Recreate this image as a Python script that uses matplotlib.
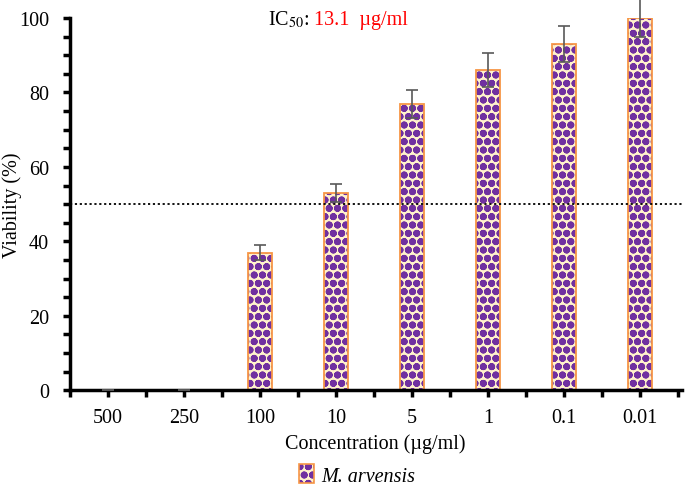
import numpy as np
import matplotlib.pyplot as plt
from matplotlib.patches import Patch
from matplotlib.ticker import MultipleLocator

# data
concentrations = ["500", "250", "100", "10", "5", "1", "0.1", "0.01"]
viability = [0, 0, 37, 53, 77, 86, 93, 100]
viability_err = [0, 0, 2, 2.5, 3.8, 4.5, 4.8, 5]
ic50_text = "13.1  µg/ml"

purple = "#7030A0"
cream = "#FFF2CC"
orange = "#F79646"

plt.rcParams["font.family"] = ["Liberation Serif", "DejaVu Serif"]
plt.rcParams["mathtext.fontset"] = "stix"
plt.rcParams["hatch.linewidth"] = 2.6

fs = 14.5

fig = plt.figure(figsize=(6.85, 4.89), dpi=100)
ax = fig.add_axes([0.102, 0.2, 0.893, 0.761])

x = np.arange(len(concentrations))
width = 0.32

# cream fill with purple circle hatch, then orange outline on top
ax.bar(x, viability, width, color=cream, edgecolor=purple, hatch="oo", linewidth=0)
ax.bar(x, viability, width, facecolor="none", edgecolor=orange, linewidth=1.3)
ax.errorbar(x, viability, yerr=viability_err, fmt="none", ecolor="#595959",
            elinewidth=1.2, capsize=4, capthick=1.2, clip_on=False, zorder=3)

# 50 % line
ax.axhline(50, color="black", linestyle=(0, (1.2, 1.5)), linewidth=1.3)

ax.set_xlim(-0.5, len(concentrations) - 0.45)
ax.set_ylim(0, 100)

ax.set_xticks(x)
ax.set_xticklabels(concentrations)
ax.set_xticks(np.arange(-0.5, len(concentrations), 1.0), minor=True)
ax.yaxis.set_major_locator(MultipleLocator(20))
ax.yaxis.set_minor_locator(MultipleLocator(5))

for s in ["top", "right"]:
    ax.spines[s].set_visible(False)
for s in ["left", "bottom"]:
    ax.spines[s].set_linewidth(2.5)

ax.tick_params(axis="both", which="both", direction="out", length=5, width=2.5,
               labelsize=fs, pad=8)
ax.tick_params(axis="y", pad=10)

ax.set_xlabel("Concentration (µg/ml)", fontsize=fs, labelpad=4)
ax.set_ylabel("Viability (%)", fontsize=fs)
ax.yaxis.set_label_coords(-0.079, 0.5)

# IC50 annotation
fig.text(0.391, 0.959, "IC$_{50}$:", fontsize=fs, color="black",
         ha="left", va="center")
fig.text(0.459, 0.959, ic50_text, fontsize=fs, color="red",
         ha="left", va="center")

handle = (Patch(facecolor=cream, edgecolor=purple, hatch="oo", linewidth=0),
          Patch(facecolor="none", edgecolor=orange, linewidth=1.2))
fig.legend([handle], ["M. arvensis"], loc="center", bbox_to_anchor=(0.522, 0.027),
           frameon=False, prop={"style": "italic", "size": fs},
           handlelength=0.7, handleheight=1.1, handletextpad=0.4)

fig.savefig("out.png", dpi=100)
